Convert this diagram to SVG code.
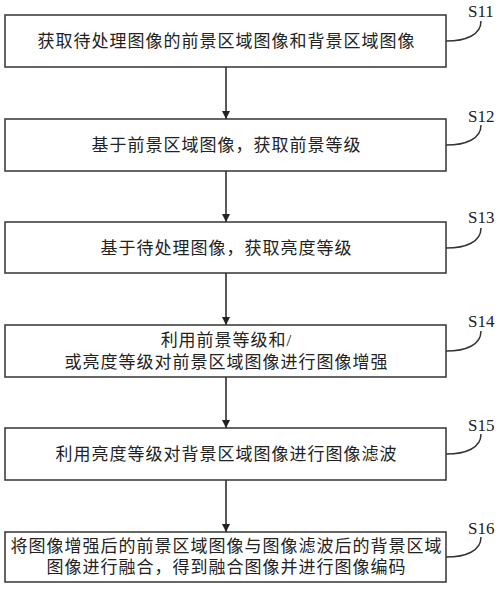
<svg xmlns="http://www.w3.org/2000/svg" width="500" height="589" viewBox="0 0 500 589">
<style>
.box{fill:#fff;stroke:#333;stroke-width:1.5}
.t{font-family:"Liberation Serif","Noto Sans CJK SC",serif;font-size:17px;letter-spacing:1px;fill:#222;text-anchor:middle;dominant-baseline:central}
.lbl{font-family:"Liberation Serif","DejaVu Serif",serif;font-size:17px;fill:#222}
.lead{fill:none;stroke:#333;stroke-width:1.5}
.arr{stroke:#222;stroke-width:1.5;fill:none}
</style>
<defs>
<marker id="ah" viewBox="0 0 10 10" refX="10" refY="5" markerWidth="8" markerHeight="8" markerUnits="userSpaceOnUse" orient="auto">
<path d="M0,0 L10,5 L0,10 Z" fill="#222"/>
</marker>
</defs>
<rect width="500" height="589" fill="#fff"/>
<g id="connectors">
<line class="arr" x1="226" y1="67" x2="226" y2="119" marker-end="url(#ah)"/>
<line class="arr" x1="226" y1="171" x2="226" y2="222" marker-end="url(#ah)"/>
<line class="arr" x1="226" y1="273" x2="226" y2="325" marker-end="url(#ah)"/>
<line class="arr" x1="226" y1="377" x2="226" y2="428" marker-end="url(#ah)"/>
<line class="arr" x1="226" y1="480" x2="226" y2="532" marker-end="url(#ah)"/>
</g>
<g id="S11">
<rect class="box" x="5" y="15" width="441" height="52"/>
<text class="t" x="226.5" y="41">获取待处理图像的前景区域图像和背景区域图像</text>
<path class="lead" d="M446,41 C466,41 481,35 481,21"/>
<text class="lbl" x="468" y="17">S11</text>
</g>
<g id="S12">
<rect class="box" x="5" y="119" width="441" height="52"/>
<text class="t" x="226.5" y="145">基于前景区域图像，获取前景等级</text>
<path class="lead" d="M446,145 C466,145 481,139 481,125"/>
<text class="lbl" x="468" y="122">S12</text>
</g>
<g id="S13">
<rect class="box" x="5" y="222" width="441" height="51"/>
<text class="t" x="226.5" y="248">基于待处理图像，获取亮度等级</text>
<path class="lead" d="M446,248 C466,248 481,242 481,228"/>
<text class="lbl" x="468" y="223">S13</text>
</g>
<g id="S14">
<rect class="box" x="5" y="325" width="441" height="52"/>
<text class="t" x="226.5" y="340">利用前景等级和/</text>
<text class="t" x="226.5" y="362">或亮度等级对前景区域图像进行图像增强</text>
<path class="lead" d="M446,351 C466,351 481,345 481,331"/>
<text class="lbl" x="468" y="327">S14</text>
</g>
<g id="S15">
<rect class="box" x="5" y="428" width="441" height="52"/>
<text class="t" x="226.5" y="454">利用亮度等级对背景区域图像进行图像滤波</text>
<path class="lead" d="M446,454 C466,454 481,448 481,434"/>
<text class="lbl" x="468" y="431">S15</text>
</g>
<g id="S16">
<rect class="box" x="5" y="532" width="441" height="50"/>
<text class="t" x="226.5" y="546">将图像增强后的前景区域图像与图像滤波后的背景区域</text>
<text class="t" x="226.5" y="567">图像进行融合，得到融合图像并进行图像编码</text>
<path class="lead" d="M446,557 C466,557 481,551 481,537"/>
<text class="lbl" x="468" y="534">S16</text>
</g>
</svg>
